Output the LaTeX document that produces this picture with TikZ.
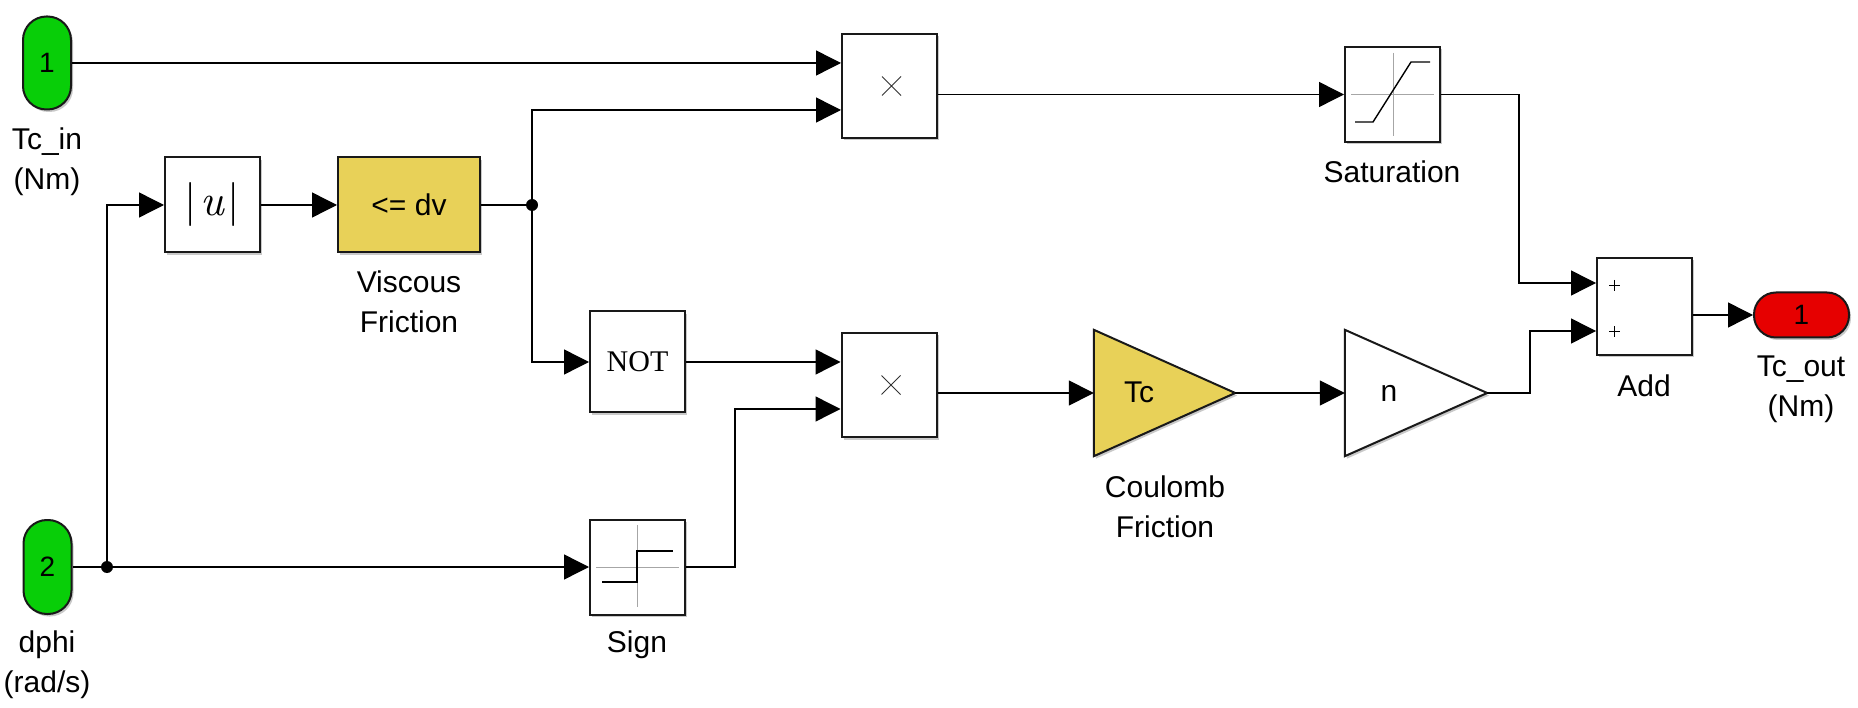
\documentclass[tikz,border=0pt]{standalone}
\usepackage{fontspec}
\setmainfont{Liberation Sans}
\newfontfamily\notfont{Liberation Serif}
\newfontfamily\lmfont{lmroman10}[Extension=.otf,UprightFont=*-regular,ItalicFont=*-italic]
\usetikzlibrary{arrows.meta,shadows,calc}
\definecolor{portgreen}{RGB}{8,206,8}
\definecolor{portred}{RGB}{230,0,0}
\definecolor{blkyellow}{RGB}{232,209,88}
\begin{document}
\begin{tikzpicture}[x=1pt,y=-1pt,
  shd/.style={drop shadow={shadow xshift=2pt,shadow yshift=-2.5pt,fill=black!60,opacity=0.35}},
  blk/.style={draw=black!90,line width=2pt,fill=white,inner sep=0pt,shd,
    font=\fontsize{30}{36}\selectfont},
  port/.style={blk,font=\fontsize{28}{32}\selectfont},
  ghost/.style={inner sep=0pt,draw=none},
  tri/.style={draw=black!90,line width=2pt,shd,line join=miter},
  lbl/.style={align=center,inner sep=0pt,font=\fontsize{30}{40}\selectfont},
  wire/.style={line width=1.4pt},
  sig/.style={wire,-{Triangle[length=25pt,width=25pt]}},
  icon/.style={line width=1.4pt},
  axis/.style={line width=1pt,draw=black!35},
  mul/.style={line width=1pt,draw=black!80}
]
\useasboundingbox[fill=white] (0,0) rectangle (1858,708);

% ports
\node[port,fill=portgreen,minimum width=48pt,minimum height=93pt,rounded corners=23.5pt] (in1) at (47,63) {1};
\node[port,fill=portgreen,minimum width=48pt,minimum height=94pt,rounded corners=23.5pt] (in2) at (47.5,567) {2};
\node[port,fill=portred,minimum width=95pt,minimum height=45pt,rounded corners=22pt] (out) at (1801.5,315) {1};

% blocks
\node[blk,minimum width=95pt,minimum height=95pt] (absu) at (212.5,205) {\lmfont\fontsize{44}{48}\selectfont |\kern3pt\itshape u\/\kern3pt\upshape|};
\node[blk,fill=blkyellow,minimum width=142pt,minimum height=95pt] (visc) at (409,205) {<= dv};
\node[blk,minimum width=95pt,minimum height=104pt] (prod1) at (889.5,86) {};
\node[blk,minimum width=95pt,minimum height=101pt] (not) at (637.5,362) {\notfont NOT};
\node[blk,minimum width=95pt,minimum height=104pt] (prod2) at (889,385) {};
\node[blk,minimum width=95pt,minimum height=95pt] (sign) at (637.5,567) {};
\node[blk,minimum width=95pt,minimum height=95pt] (sat) at (1392.5,94.5) {};
\node[blk,minimum width=95pt,minimum height=97pt] (add) at (1644.5,306.5) {};

% triangles (gains)
\node[ghost,minimum width=141pt,minimum height=126pt] (coul) at (1164.5,393) {};
\node[ghost,minimum width=142pt,minimum height=126pt] (gain) at (1416,393) {};
\draw[tri,fill=blkyellow] (coul.north west) -- (coul.east) -- (coul.south west) -- cycle;
\draw[tri,fill=white] (gain.north west) -- (gain.east) -- (gain.south west) -- cycle;
\node[inner sep=0pt,font=\fontsize{30}{36}\selectfont] (tctext) at (1139,392) {Tc};
\node[inner sep=0pt,font=\fontsize{30}{36}\selectfont] (ntext) at (1389,393) {n};

% icons
\draw[mul] (882,76.5) -- (901,95.5) (882,95.5) -- (901,76.5);
\draw[mul] (881.5,375.5) -- (900.5,394.5) (881.5,394.5) -- (900.5,375.5);
\draw[axis] (1393,53) -- (1393,136) (1351,94.5) -- (1434,94.5);
\draw[icon] (1355,122) -- (1373,122) -- (1411,62) -- (1430,62);
\draw[axis] (637,525) -- (637,607) (596,567) -- (679,567);
\draw[icon] (602,582) -- (637,582) -- (637,551) -- (673,551);
\draw[line width=1pt] (1609,285.5) -- (1620,285.5) (1614.5,280) -- (1614.5,291);
\draw[line width=1pt] (1609,332) -- (1620,332) (1614.5,326.5) -- (1614.5,337.5);

% labels
\node[lbl] (lin1) at (47,162) {Tc\_in\\(Nm)};
\node[lbl] (lin2) at (47,665) {dphi\\(rad/s)};
\node[lbl] (lout) at (1801,389) {Tc\_out\\(Nm)};
\node[lbl] (lvisc) at (409,302) {Viscous\\Friction};
\node[lbl] (lcoul) at (1165,507) {Coulomb\\Friction};
\node[lbl] (lsat) at (1392,172) {Saturation};
\node[lbl] (lsign) at (637,645) {Sign};
\node[lbl] (ladd) at (1644,386) {Add};

% junctions
\coordinate (j1) at (532,205);
\coordinate (j2) at (107,567);
\coordinate (s1) at (735,567);
\coordinate (s2) at (1519,94.5);
\coordinate (s3) at (1530,393);

% connectors
\draw[sig] (in1.east) -- (in1.east -| prod1.west);
\draw[sig] (in2.east) -- (sign.west);
\draw[sig] (j2) |- (absu.west);
\draw[sig] (absu.east) -- (visc.west);
\draw[wire] (visc.east) -- (j1);
\draw[sig] (j1) |- ([yshift=-24pt]prod1.west);
\draw[sig] (j1) |- (not.west);
\draw[sig] (not.east) -- (not.east -| prod2.west);
\draw[sig] (sign.east) -- (s1) |- ([yshift=-24pt]prod2.west);
\draw[sig] (sat.west -| prod1.east) -- (sat.west);
\draw[sig] (sat.east) -- (s2) |- ([yshift=23.5pt]add.west);
\draw[sig] (coul.west -| prod2.east) -- (coul.west);
\draw[sig] (coul.east) -- (gain.west);
\draw[sig] (gain.east) -- (s3) |- ([yshift=-24.5pt]add.west);
\draw[sig] (out.west -| add.east) -- (out.west);
\fill (j1) circle (6pt);
\fill (j2) circle (6pt);
\end{tikzpicture}
\end{document}
